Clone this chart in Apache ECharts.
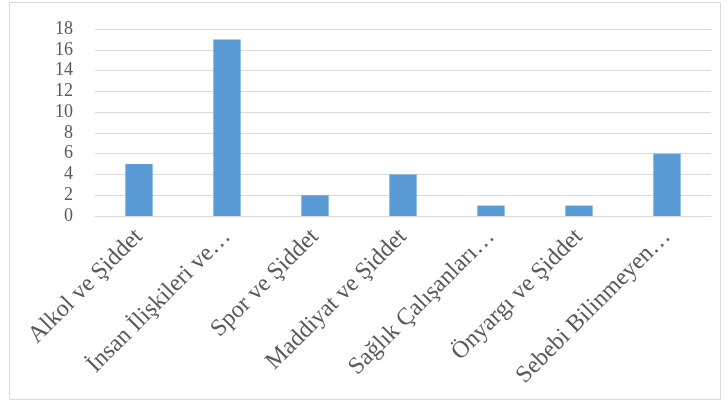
<!DOCTYPE html>
<html><head><meta charset="utf-8">
<script src="https://cdn.jsdelivr.net/npm/echarts@6/dist/echarts.min.js"></script>
<style>html,body{margin:0;padding:0;background:#fff}#c{width:728px;height:403px}</style>
</head><body><div id="c"></div>
<script>
const categories = ["Alkol ve Şiddet","İnsan İlişkileri ve…","Spor ve Şiddet","Maddiyat ve Şiddet","Sağlık Çalışanları…","Önyargı ve Şiddet","Sebebi Bilinmeyen…"];
const values = [5,17,2,4,1,1,6];
const chart = echarts.init(document.getElementById('c'));
const font = '"Liberation Serif","Times New Roman",serif';
chart.setOption({
  animation:false,
  graphic:[{type:'rect',shape:{x:9.5,y:2.5,width:711,height:397},style:{fill:'none',stroke:'#d9d9d9',lineWidth:1}}],
  grid:{left:95,right:17,top:29,bottom:187,containLabel:false},
  xAxis:{type:'category',data:categories,
    axisLine:{lineStyle:{color:'#d9d9d9',width:1}},axisTick:{show:false},
    axisLabel:{rotate:45,interval:0,margin:17,color:'#595959',fontFamily:font,fontSize:24}},
  yAxis:{type:'value',min:0,max:18,interval:2,
    axisLine:{show:false},axisTick:{show:false},
    splitLine:{lineStyle:{color:'#d9d9d9',width:1}},
    axisLabel:{margin:22,color:'#595959',fontFamily:font,fontSize:18}},
  series:[{type:'bar',data:values,barWidth:'31%',itemStyle:{color:'#5b9bd5'}}]
});
</script></body></html>
